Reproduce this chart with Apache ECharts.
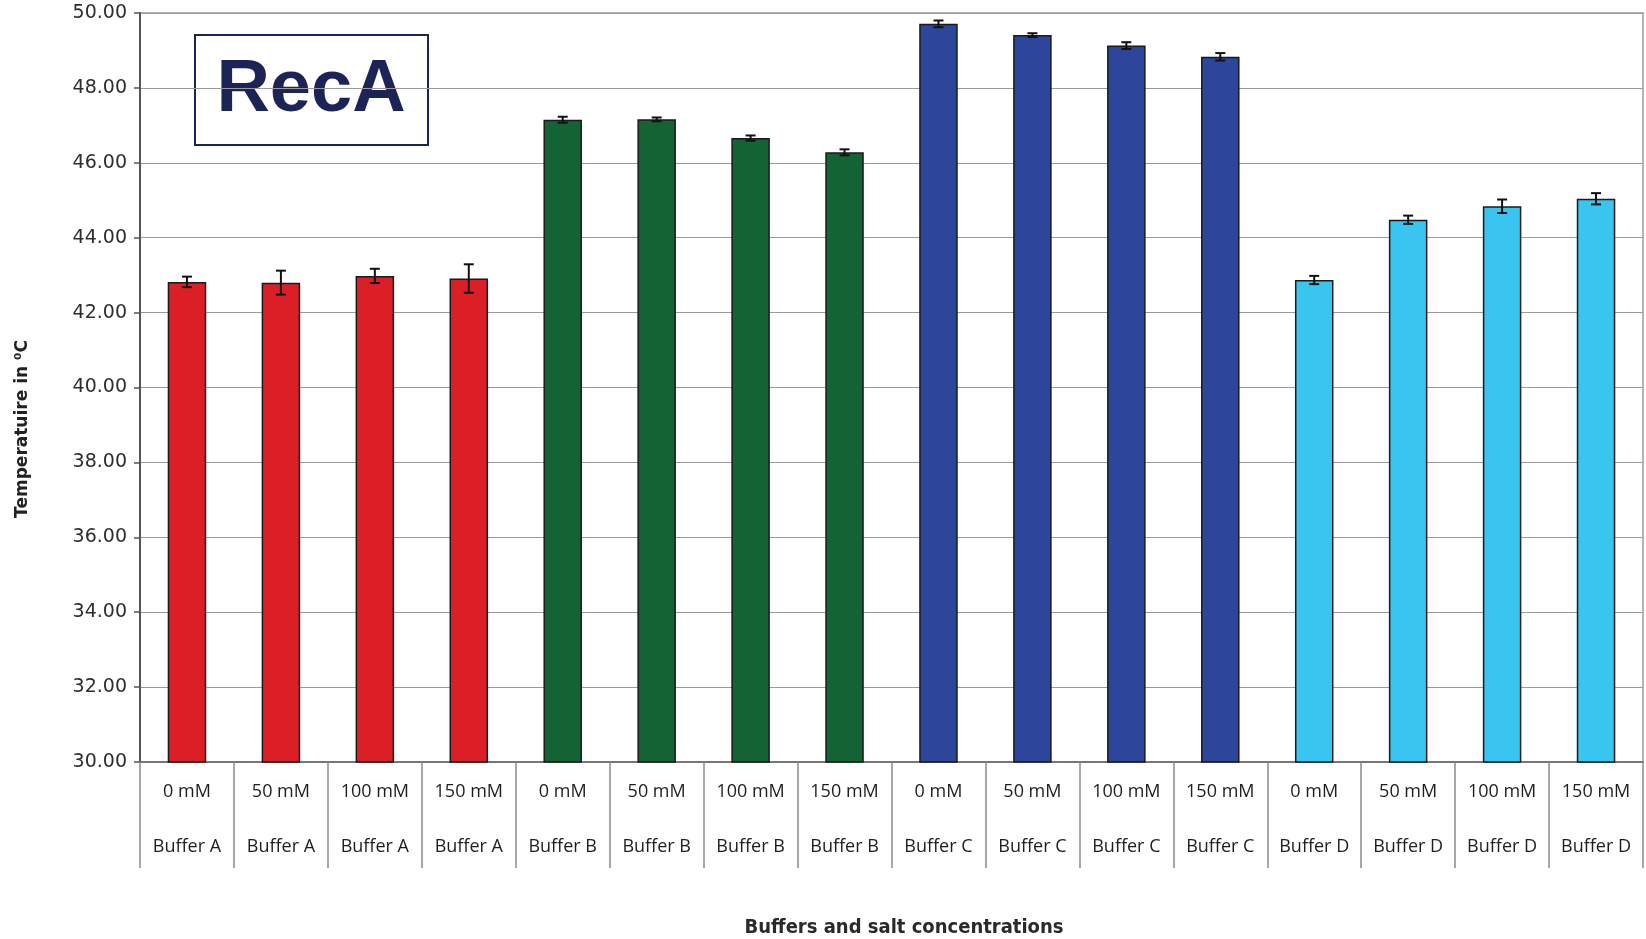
<!DOCTYPE html>
<html>
<head>
<meta charset="utf-8">
<script src="https://cdn.jsdelivr.net/npm/echarts@6/dist/echarts.min.js"></script>
<style>
  html, body { margin: 0; padding: 0; background: #fff; }
  #chart { width: 1646px; height: 939px; }
</style>
</head>
<body>
<div id="chart"></div>
<script>
// Salt concentrations and buffers for each bar
const concentrations = ['0 mM', '50 mM', '100 mM', '150 mM',
                        '0 mM', '50 mM', '100 mM', '150 mM',
                        '0 mM', '50 mM', '100 mM', '150 mM',
                        '0 mM', '50 mM', '100 mM', '150 mM'];
const buffers = ['Buffer A', 'Buffer A', 'Buffer A', 'Buffer A',
                 'Buffer B', 'Buffer B', 'Buffer B', 'Buffer B',
                 'Buffer C', 'Buffer C', 'Buffer C', 'Buffer C',
                 'Buffer D', 'Buffer D', 'Buffer D', 'Buffer D'];
// Melting temperature (°C) and standard deviation
const meltTemps = [42.82, 42.80, 42.98, 42.91,
                   47.15, 47.16, 46.66, 46.28,
                   49.71, 49.41, 49.13, 48.83,
                   42.87, 44.48, 44.84, 45.04];
const stdDevs = [0.14, 0.32, 0.19, 0.38,
                 0.08, 0.05, 0.07, 0.08,
                 0.09, 0.05, 0.09, 0.10,
                 0.11, 0.11, 0.18, 0.15];
const bufferColors = {
  'Buffer A': '#dc1f26',
  'Buffer B': '#136335',
  'Buffer C': '#2d469c',
  'Buffer D': '#38c5f0'
};
const yTicks = { min: 30, max: 50, step: 2 };

const categories = concentrations.map((c, i) => c + '\n' + buffers[i]);

const chart = echarts.init(document.getElementById('chart'));

chart.setOption({
  animation: false,
  backgroundColor: '#ffffff',
  grid: {
    left: 140, right: 3, top: 13, bottom: 177,
    show: true, borderColor: '#b5b5b5', borderWidth: 2,
    containLabel: false
  },
  xAxis: {
    type: 'category',
    data: categories,
    axisLine: { show: true, lineStyle: { color: '#777', width: 2 } },
    axisTick: {
      show: true, interval: 0, alignWithLabel: false, length: 106,
      lineStyle: { color: '#8a8a8a', width: 1.5 }
    },
    axisLabel: {
      interval: 0, margin: 2,
      fontFamily: 'Open Sans', fontSize: 18, color: '#1e1e1e',
      lineHeight: 55
    }
  },
  yAxis: {
    type: 'value',
    min: yTicks.min, max: yTicks.max, interval: yTicks.step,
    axisLine: { show: true, lineStyle: { color: '#555', width: 2 } },
    axisTick: { show: true, length: 6, lineStyle: { color: '#555', width: 1.5 } },
    axisLabel: {
      margin: 13, fontFamily: 'DejaVu Sans', fontSize: 19, color: '#2e2e2e',
      formatter: v => v.toFixed(2)
    },
    splitLine: { show: true, lineStyle: { color: '#9a9a9a', width: 1.2 } }
  },
  series: [
    {
      type: 'bar',
      barWidth: '41%',
      data: meltTemps.map((v, i) => ({
        value: v,
        itemStyle: { color: bufferColors[buffers[i]] }
      })),
      itemStyle: { borderColor: '#1a1a1a', borderWidth: 1.5 },
      z: 2
    },
    {
      type: 'custom',
      z: 3,
      data: meltTemps.map((v, i) => [i, v - stdDevs[i], v + stdDevs[i]]),
      renderItem: function (params, api) {
        const i = api.value(0);
        const lo = api.coord([i, api.value(1)]);
        const hi = api.coord([i, api.value(2)]);
        const cap = 5;
        const style = { stroke: '#111', lineWidth: 2 };
        return {
          type: 'group',
          children: [
            { type: 'line', shape: { x1: lo[0], y1: lo[1], x2: hi[0], y2: hi[1] }, style },
            { type: 'line', shape: { x1: lo[0] - cap, y1: lo[1], x2: lo[0] + cap, y2: lo[1] }, style },
            { type: 'line', shape: { x1: hi[0] - cap, y1: hi[1], x2: hi[0] + cap, y2: hi[1] }, style }
          ]
        };
      }
    }
  ],
  graphic: [
    {
      type: 'group', left: 194, top: 34, z: 10,
      children: [
        {
          type: 'rect',
          shape: { x: 0, y: 0, width: 233, height: 110 },
          style: { fill: '#ffffff', stroke: '#1c2357', lineWidth: 2 }
        },
        {
          type: 'text',
          x: 116, y: 56,
          style: {
            text: 'RecA', fill: '#1c2357',
            font: 'bold 74px "Liberation Sans", Arial, sans-serif',
            textAlign: 'center', textVerticalAlign: 'middle'
          }
        }
      ]
    },
    {
      type: 'text',
      x: 23, y: 429, rotation: Math.PI / 2, z: 10,
      style: {
        text: 'Temperatuire in ⁰C', fill: '#222',
        font: 'bold 17px "DejaVu Sans", sans-serif',
        textAlign: 'center', textVerticalAlign: 'middle'
      }
    },
    {
      type: 'text',
      x: 904, y: 928, z: 10,
      style: {
        text: 'Buffers and salt concentrations', fill: '#2a2a2a',
        font: 'bold 20px "Liberation Sans Narrow", "DejaVu Sans Condensed", sans-serif',
        textAlign: 'center', textVerticalAlign: 'middle'
      }
    }
  ]
});
</script>
</body>
</html>
